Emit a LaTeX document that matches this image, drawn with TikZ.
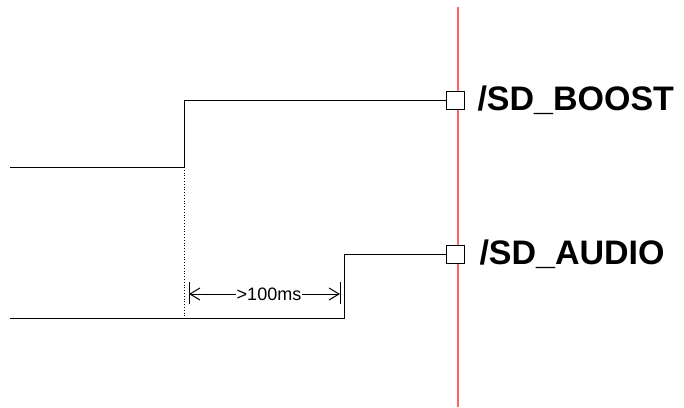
\documentclass[tikz,border=0pt]{standalone}
\usepackage{fontspec}
\setmainfont{Liberation Sans}
\usetikzlibrary{arrows.meta}

\definecolor{probered}{RGB}{255,100,100}

\begin{document}
\begin{tikzpicture}[x=1pt, y=-1pt, line width=1pt, >={Straight Barb[length=10pt,width=12pt]}]
        \useasboundingbox (0,0) rectangle (684,407);
        \coordinate (probetop) at (458,7);
        \coordinate (probebot) at (458,407);
        \draw[probered, line width=1.8pt] (probetop) -- (probebot);

        \node (boostpin) [rectangle, draw, fill=white, minimum size=18pt, inner sep=0pt] at (455,100) {};
        \node (audiopin) [rectangle, draw, fill=white, minimum size=18pt, inner sep=0pt] at (455,254) {};
        \node (boostlbl) [anchor=west, inner sep=0pt, font=\fontsize{34}{34}\selectfont\bfseries] at (477,100) {/SD\_BOOST};
        \node (audiolbl) [anchor=west, inner sep=0pt, font=\fontsize{34}{34}\selectfont\bfseries] at (479,254) {/SD\_AUDIO};

        \coordinate (boostlow) at (10,167);
        \coordinate (boostedge) at (184,167);
        \coordinate (audiolow) at (10,318);
        \coordinate (audioedge) at (344,318);
        \coordinate (edgefoot) at (184,318);

        \draw (boostlow) -- (boostedge) |- (boostpin.west);
        \draw (audiolow) -- (audioedge) |- (audiopin.west);
        \draw[dotted, line width=0.8pt] (boostedge) -- (edgefoot);

        \coordinate (ticktopl) at (189,282);
        \coordinate (tickbotl) at (189,304);
        \coordinate (ticktopr) at (340,282);
        \coordinate (tickbotr) at (340,304);
        \draw (ticktopl) -- (tickbotl);
        \draw (ticktopr) -- (tickbotr);

        \node (delay) [inner sep=0pt, font=\fontsize{18}{18}\selectfont] at (269,294) {>100ms};
        \draw[->] (delay.west) -- (189,294);
        \draw[->] (delay.east) -- (340,294);
\end{tikzpicture}
\end{document}
